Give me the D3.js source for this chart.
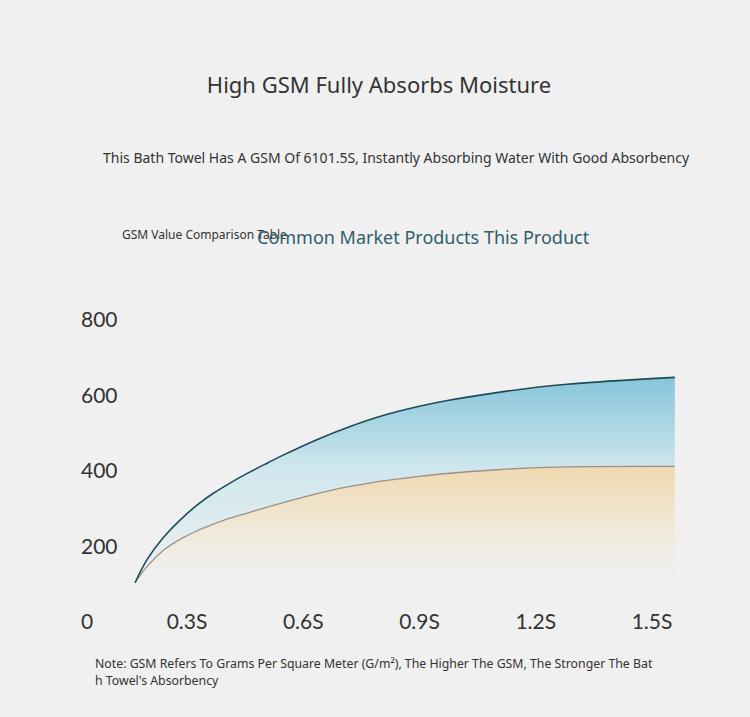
<!DOCTYPE html>
<html>
<head>
<meta charset="utf-8">
<script src="https://cdn.jsdelivr.net/npm/d3@7"></script>
<style>
  html, body { margin: 0; padding: 0; background: #f0f0f0; }
  svg text { font-family: "Noto Sans", "Open Sans", sans-serif; }
</style>
</head>
<body>
<div id="chart"></div>
<script>
// # Data.
const seconds   = [0.166, 0.196, 0.239, 0.282, 0.325, 0.368, 0.411, 0.454, 0.509, 0.548, 0.635, 0.721, 0.806, 0.894, 0.979, 1.108, 1.281, 1.559]
const thisGSM   = [104, 164, 224, 270, 309, 341, 368, 393, 422, 442, 483, 518, 547, 570, 588, 609, 630, 648]
const commonGSM = [104, 146, 190, 219, 241, 259, 275, 288, 305, 316, 340, 359, 374, 385, 394, 404, 411, 412]
const xTicks    = [0.3, 0.6, 0.9, 1.2, 1.5]
const yTicks    = [0, 200, 400, 600, 800]
const legendLabels = ['Common Market Products', 'This Product']

const width = 750, height = 717

let svg = d3.select('#chart')
    .append('svg')
    .attr('width', width)
    .attr('height', height)
svg.append('rect')
    .attr('width', width)
    .attr('height', height)
    .attr('fill', '#f0f0f0')

let x = d3.scaleLinear().domain([0.3, 1.5]).range([187, 652])
let y = d3.scaleLinear().domain([0, 800]).range([622, 320])

let points = seconds.map((s, i) => ({s, top: thisGSM[i], low: commonGSM[i]}))

// # Gradients.
let defs = svg.append('defs')
let blue = defs.append('linearGradient')
    .attr('id', 'blueFill')
    .attr('gradientUnits', 'userSpaceOnUse')
    .attr('x1', 0).attr('x2', 0)
    .attr('y1', y(650)).attr('y2', y(100))
blue.append('stop').attr('offset', 0).attr('stop-color', '#86c5da')
blue.append('stop').attr('offset', 0.45).attr('stop-color', '#d0e7ed')
blue.append('stop').attr('offset', 1).attr('stop-color', '#eef0f0')

let sand = defs.append('linearGradient')
    .attr('id', 'sandFill')
    .attr('gradientUnits', 'userSpaceOnUse')
    .attr('x1', 0).attr('x2', 0)
    .attr('y1', y(413)).attr('y2', y(60))
sand.append('stop').attr('offset', 0).attr('stop-color', '#efd9b0').attr('stop-opacity', 1)
sand.append('stop').attr('offset', 0.35).attr('stop-color', '#f1e3c9').attr('stop-opacity', 0.9)
sand.append('stop').attr('offset', 1).attr('stop-color', '#f0f0f0').attr('stop-opacity', 0)

let curve = d3.curveNatural

// # Areas.
svg.append('path')
    .datum(points)
    .attr('fill', 'url(#sandFill)')
    .attr('d', d3.area().curve(curve)
        .x(d => x(d.s)).y0(y(0)).y1(d => y(d.low)))
svg.append('path')
    .datum(points)
    .attr('fill', 'url(#blueFill)')
    .attr('d', d3.area().curve(curve)
        .x(d => x(d.s)).y0(d => y(d.low)).y1(d => y(d.top)))

// # Lines.
svg.append('path')
    .datum(points)
    .attr('fill', 'none')
    .attr('stroke', '#9c9084')
    .attr('stroke-width', 1.3)
    .attr('d', d3.line().curve(curve).x(d => x(d.s)).y(d => y(d.low)))
svg.append('path')
    .datum(points)
    .attr('fill', 'none')
    .attr('stroke', '#1d4b57')
    .attr('stroke-width', 1.6)
    .attr('d', d3.line().curve(curve).x(d => x(d.s)).y(d => y(d.top)))

// # Axes labels (no axis lines in the picture).
svg.append('g')
    .selectAll('text')
    .data(yTicks)
    .enter().append('text')
    .attr('x', 81)
    .attr('y', d => y(d))
    .attr('dy', '0.35em')
    .style('font-family', 'Lato, sans-serif')
    .style('font-size', '21px')
    .attr('fill', '#333')
    .text(d => d)
svg.append('g')
    .selectAll('text')
    .data(xTicks)
    .enter().append('text')
    .attr('x', d => x(d))
    .attr('y', 622)
    .attr('dy', '0.35em')
    .attr('text-anchor', 'middle')
    .style('font-family', 'Lato, sans-serif')
    .style('font-size', '21px')
    .attr('fill', '#333')
    .text(d => d + 'S')

// # Titles.
svg.append('text')
    .attr('x', 379).attr('y', 93)
    .attr('text-anchor', 'middle')
    .style('font-size', '22px')
    .attr('fill', '#333')
    .text('High GSM Fully Absorbs Moisture')
svg.append('text')
    .attr('x', 103).attr('y', 163)
    .style('font-size', '14px')
    .attr('fill', '#333')
    .text('This Bath Towel Has A GSM Of 6101.5S, Instantly Absorbing Water With Good Absorbency')
svg.append('text')
    .attr('x', 122).attr('y', 239)
    .style('font-size', '12px')
    .attr('fill', '#333')
    .text('GSM Value Comparison Table')
svg.append('text')
    .attr('x', 257).attr('y', 244)
    .style('font-size', '18px')
    .attr('fill', '#2f5e69')
    .text(legendLabels.join(' '))

// # Note.
let note = svg.append('text')
    .style('font-size', '12.3px')
    .attr('fill', '#333')
note.append('tspan').attr('x', 95).attr('y', 668)
    .text('Note: GSM Refers To Grams Per Square Meter (G/m²), The Higher The GSM, The Stronger The Bat')
note.append('tspan').attr('x', 95).attr('y', 685)
    .text("h Towel's Absorbency")
</script>
</body>
</html>
